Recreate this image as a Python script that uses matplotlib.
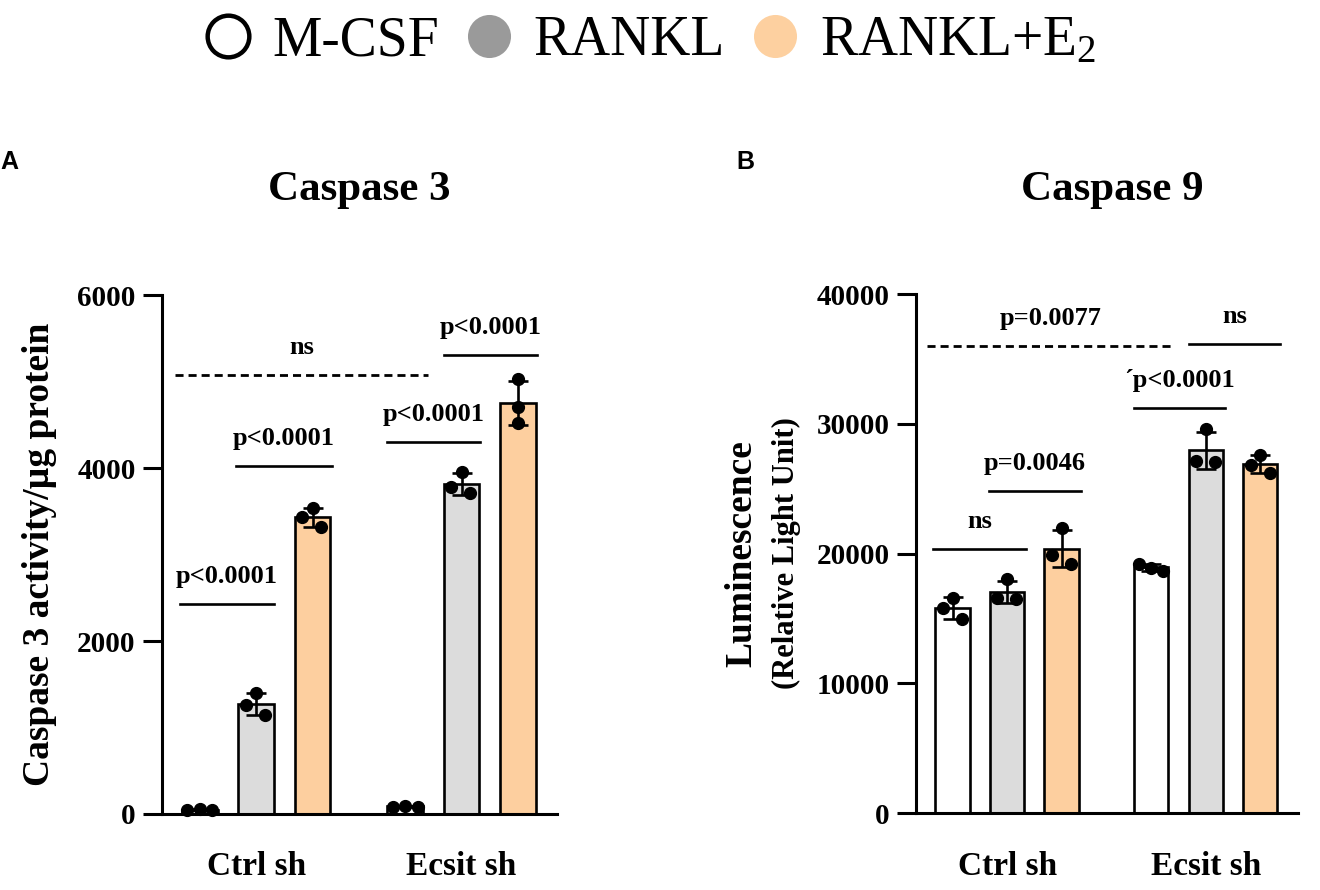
import numpy as np
import matplotlib
matplotlib.use("Agg")
import matplotlib.pyplot as plt
from matplotlib.lines import Line2D

plt.rcParams['font.family'] = ['Liberation Serif', 'DejaVu Serif']
plt.rcParams['mathtext.fontset'] = 'custom'
plt.rcParams['mathtext.rm'] = 'Liberation Serif'
plt.rcParams['mathtext.it'] = 'Liberation Serif:italic'
plt.rcParams['mathtext.bf'] = 'Liberation Serif:bold'

# ---- data (three replicates per bar) ----
groups = ['Ctrl sh', 'Ecsit sh']
treatments = ['M-CSF', 'RANKL', 'RANKL+$\\mathrm{E}_2$']

casp3_ctrl = [[45, 55, 50], [1400, 1260, 1145], [3537, 3433, 3318]]
casp3_ecsit = [[80, 95, 85], [3953, 3780, 3711], [5029, 4705, 4520]]
casp9_ctrl = [[16610, 15840, 14920], [18000, 16610, 16530], [21990, 19920, 19230]]
casp9_ecsit = [[19230, 18920, 18690], [29610, 27150, 27070], [27610, 26840, 26220]]

casp3_ticks = [0, 2000, 4000, 6000]
casp9_ticks = [0, 10000, 20000, 30000, 40000]

# significance brackets: label, (x start, x end), y level
sig3_labels = ['p<0.0001', 'p<0.0001', 'p<0.0001', 'p<0.0001', 'ns']
sig3_x = [(-0.35, 1.31), (0.65, 2.34), (3.31, 4.97), (4.32, 5.98), (-0.44, 4.04)]
sig3_y = [2428, 4023, 4300, 5306, 5075]
sig3_dotted = [False, False, False, False, True]

sig9_labels = ['ns', 'p=0.0046', '\u00b4p<0.0001', 'p=0.0077', 'ns']
sig9_x = [(-0.35, 1.34), (0.66, 2.35), (3.32, 4.99), (-0.46, 4.04), (4.33, 6.0)]
sig9_y = [20380, 24840, 31220, 35990, 36140]
sig9_dotted = [False, False, False, True, False]

# ---- style ----
bar_colors = ['white', '#dcdcdc', '#fdcf9f']
legend_colors = ['white', '#9a9a9a', '#fdd0a0']
group_pos = [0.0, 3.64]
bar_w = 0.63
# horizontal spread of the dots so they don't overlap
off3 = [[[-0.22, 0, 0.22], [0, -0.18, 0.15], [0, -0.19, 0.15]],
        [[-0.22, 0, 0.22], [0, -0.19, 0.15], [0, 0, 0]]]
off9 = [[[0, -0.18, 0.17], [0, -0.18, 0.16], [0, -0.18, 0.17]],
        [[-0.22, 0, 0.22], [0, -0.17, 0.17], [0, -0.17, 0.17]]]


def draw_panel(ax, data, offsets, ticks, labels, xs, ys, dotted):
    for g, reps in enumerate(data):
        for t, vals in enumerate(reps):
            x = group_pos[g] + t
            vals = np.array(vals, dtype=float)
            m = vals.mean()
            sd = vals.std(ddof=1)
            ax.bar(x, m, width=bar_w, color=bar_colors[t], edgecolor='black',
                   linewidth=1.9, zorder=2)
            ax.errorbar(x, m, yerr=sd, fmt='none', ecolor='black', elinewidth=1.9,
                        capsize=7, capthick=1.9, zorder=3)
            ax.plot(x + np.array(offsets[g][t]), vals, 'o', color='black', ms=8.5,
                    zorder=4, clip_on=False)
    for lab, (x0, x1), y, dot in zip(labels, xs, ys, dotted):
        if dot:
            ax.plot([x0, x1], [y, y], color='black', lw=2, dashes=(2.9, 1.8), clip_on=False)
        else:
            ax.plot([x0, x1], [y, y], color='black', lw=1.9, clip_on=False)
        ax.annotate(lab, ((x0 + x1) / 2, y), xytext=(0, 15), textcoords='offset points',
                    ha='center', va='baseline', fontsize=19, fontweight='bold')
    ax.set_xlim(-0.67, 6.33)
    ax.set_ylim(0, ticks[-1])
    ax.set_yticks(ticks)
    ax.set_yticklabels([str(t) for t in ticks], fontsize=21, fontweight='bold')
    ax.set_xticks([group_pos[0] + 1, group_pos[1] + 1])
    ax.set_xticklabels(groups, fontsize=24, fontweight='bold')
    ax.tick_params(axis='x', length=0, pad=27)
    ax.tick_params(axis='y', length=14, width=2.2, pad=5)
    for s in ['top', 'right']:
        ax.spines[s].set_visible(False)
    for s in ['left', 'bottom']:
        ax.spines[s].set_linewidth(2.2)


fig = plt.figure(figsize=(13.2, 8.9), dpi=100)
ax1 = fig.add_axes([0.1227, 0.0854, 0.2992, 0.5831])
ax2 = fig.add_axes([0.6939, 0.0865, 0.2894, 0.5831])

draw_panel(ax1, [casp3_ctrl, casp3_ecsit], off3, casp3_ticks,
           sig3_labels, sig3_x, sig3_y, sig3_dotted)
draw_panel(ax2, [casp9_ctrl, casp9_ecsit], off9, casp9_ticks,
           sig9_labels, sig9_x, sig9_y, sig9_dotted)

ax1.text(-0.311, 0.5, 'Caspase 3 activity/\u00b5g protein', transform=ax1.transAxes,
         rotation=90, ha='center', va='center', fontsize=27, fontweight='bold')
ax2.text(-0.455, 0.5, 'Luminescence', transform=ax2.transAxes, rotation=90,
         ha='center', va='center', fontsize=27, fontweight='bold')
ax2.text(-0.338, 0.5, '(Relative Light Unit)', transform=ax2.transAxes, rotation=90,
         ha='center', va='center', fontsize=22, fontweight='bold')

fig.text(359 / 1320, 1 - 190 / 890, 'Caspase 3', ha='center', va='center',
         fontsize=31, fontweight='bold')
fig.text(1112 / 1320, 1 - 190 / 890, 'Caspase 9', ha='center', va='center',
         fontsize=31, fontweight='bold')
fig.text(0 / 1320, 1 - 162 / 890, 'A', ha='left', va='center', fontsize=18,
         fontweight='bold', family='Liberation Sans')
fig.text(736 / 1320, 1 - 162 / 890, 'B', ha='left', va='center', fontsize=18,
         fontweight='bold', family='Liberation Sans')

handles = [Line2D([], [], ls='none', marker='o', ms=30, mfc=legend_colors[0],
                  mec='black', mew=3.2),
           Line2D([], [], ls='none', marker='o', ms=31, mfc=legend_colors[1], mec='none'),
           Line2D([], [], ls='none', marker='o', ms=31, mfc=legend_colors[2], mec='none')]
fig.legend(handles, treatments, loc='center', bbox_to_anchor=(0.491, 1 - 41 / 890),
           ncol=3, frameon=False, fontsize=40, handletextpad=0.3, columnspacing=0.4,
           handlelength=1.0, borderpad=0)

fig.savefig('out.png', dpi=100)
